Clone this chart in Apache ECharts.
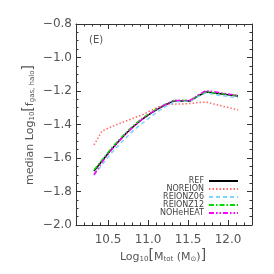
<!DOCTYPE html>
<html><head><meta charset="utf-8">
<script src="https://cdn.jsdelivr.net/npm/echarts@6/dist/echarts.min.js"></script>
<style>html,body{margin:0;padding:0;background:#fff}#c{width:274px;height:274px}</style>
</head><body><div id="c"></div>
<script>
var mass = [10.325,10.425,10.525,10.625,10.725,10.825,10.925,11.025,11.125,11.225,11.325,11.425,11.525,11.625,11.725,11.825,11.925,12.025,12.125];
var REF = [-1.678,-1.618,-1.558,-1.504,-1.454,-1.409,-1.370,-1.337,-1.307,-1.281,-1.260,-1.260,-1.260,-1.230,-1.206,-1.212,-1.218,-1.224,-1.230];
var NOREION = [-1.522,-1.439,-1.418,-1.397,-1.379,-1.361,-1.343,-1.319,-1.296,-1.281,-1.278,-1.278,-1.275,-1.269,-1.266,-1.278,-1.290,-1.301,-1.313];
var REIONZ06 = [-1.703,-1.640,-1.580,-1.528,-1.479,-1.433,-1.394,-1.358,-1.322,-1.291,-1.266,-1.262,-1.260,-1.234,-1.210,-1.220,-1.228,-1.234,-1.240];
var REIONZ12 = [-1.672,-1.612,-1.552,-1.498,-1.448,-1.403,-1.364,-1.332,-1.302,-1.277,-1.257,-1.257,-1.257,-1.228,-1.205,-1.210,-1.216,-1.222,-1.228];
var NOHeHEAT = [-1.700,-1.625,-1.562,-1.506,-1.455,-1.409,-1.369,-1.335,-1.304,-1.278,-1.256,-1.256,-1.256,-1.224,-1.198,-1.205,-1.212,-1.220,-1.226];
var xMajor = [10.5,11.0,11.5,12.0];
var xMinor = [10.1,10.2,10.3,10.4,10.6,10.7,10.8,10.9,11.1,11.2,11.3,11.4,11.6,11.7,11.8,11.9,12.1,12.2,12.3];
var seriesNames = ['REF','NOREION','REIONZ06','REIONZ12','NOHeHEAT'];

var axCol = '#333';
var txtCol = '#555';
var font = 'DejaVu Sans';
function zip(a){return mass.map(function(m,i){return [m,a[i]];});}
function xax(pos, vals, len, showLabel, showLine){
  return {type:'value', position:pos, min:10.1, max:12.3,
    axisLine:{show:showLine, lineStyle:{color:axCol,width:1}},
    axisTick:{show:true, inside:true, length:len, customValues:vals, lineStyle:{color:axCol,width:1}},
    axisLabel:{show:showLabel, customValues:xMajor, margin:9, color:txtCol, fontSize:12, fontFamily:font,
      formatter:function(v){return v.toFixed(1);}},
    splitLine:{show:false}};
}
function yax(pos, showLabel){
  return {type:'value', position:pos, min:-2.0, max:-0.8, interval:0.2,
    axisLine:{show:true, onZero:false, lineStyle:{color:axCol,width:1}},
    axisTick:{show:true, inside:true, length:5, lineStyle:{color:axCol,width:1}},
    minorTick:{show:true, splitNumber:4, length:2.5, lineStyle:{color:axCol,width:1}},
    axisLabel:{show:showLabel, margin:4, color:txtCol, fontSize:12, fontFamily:font,
      formatter:function(v){return v.toFixed(1).replace('-','\u2212');}},
    splitLine:{show:false}};
}
var styles = [
  {color:'#000000', type:'solid', width:1.5},
  {color:'#ff6a6a', type:[1.5,2], width:1.5},
  {color:'#7fd3ff', type:[4,3], width:1.5},
  {color:'#00dd00', type:[5,2,1.5,2], width:1.5},
  {color:'#ff00ff', type:[5,2,1.5,2,1.5,2], width:1.5}
];
var data = [REF,NOREION,REIONZ06,REIONZ12,NOHeHEAT];
var legendTops = [177,185,193,201,209];
var chart = echarts.init(document.getElementById('c'), null, {renderer:'canvas'});
chart.setOption({
  animation:false,
  grid:{left:76, right:22, top:24, bottom:49, containLabel:false},
  xAxis:[xax('bottom', xMajor, 5, true, true), xax('bottom', xMinor, 2.5, false, false),
         xax('top', xMajor, 5, false, true), xax('top', xMinor, 2.5, false, false)],
  yAxis:[yax('left', true), yax('right', false)],
  legend: seriesNames.map(function(n,i){
    return {orient:'horizontal', right:35, top:legendTops[i], align:'right', itemWidth:29, itemHeight:6,
      padding:0, data:[n], itemStyle:{opacity:0}, selectedMode:false,
      textStyle:{fontSize:8, color:'#444', fontFamily:font}};
  }),
  series: seriesNames.map(function(n,i){
    return {name:n, type:'line', data:zip(data[i]), symbol:'none', xAxisIndex:0, yAxisIndex:0,
      lineStyle:styles[i], itemStyle:{color:styles[i].color}, z:2+i};
  }),
  graphic:[
    {type:'text', left:89, top:35, style:{text:'(E)', fontSize:10, fill:txtCol, fontFamily:font}},
    {type:'text', x:27, y:125, rotation:Math.PI/2, style:{
      text:'{a|median Log}{s|10}{b|[}{a|f}{s|gas, halo}{b|]}', align:'center', verticalAlign:'middle',
      fill:txtCol, fontFamily:font,
      rich:{a:{fontSize:11, fill:txtCol, fontFamily:font, verticalAlign:'bottom', lineHeight:15},
            s:{fontSize:7, fill:txtCol, fontFamily:font, verticalAlign:'bottom', lineHeight:11},
            b:{fontSize:14, fill:txtCol, fontFamily:font, verticalAlign:'bottom', lineHeight:17}}}},
    {type:'text', x:163, y:254, style:{
      text:'{a|Log}{s|10}{b|[}{a|M}{s|tot}{a| (M}{s|\u2299}{a|)}{b|]}', align:'center', verticalAlign:'middle',
      fill:txtCol, fontFamily:font,
      rich:{a:{fontSize:11, fill:txtCol, fontFamily:font, verticalAlign:'bottom', lineHeight:15},
            s:{fontSize:7, fill:txtCol, fontFamily:font, verticalAlign:'bottom', lineHeight:11},
            b:{fontSize:14, fill:txtCol, fontFamily:font, verticalAlign:'bottom', lineHeight:17}}}}
  ]
});
</script></body></html>
